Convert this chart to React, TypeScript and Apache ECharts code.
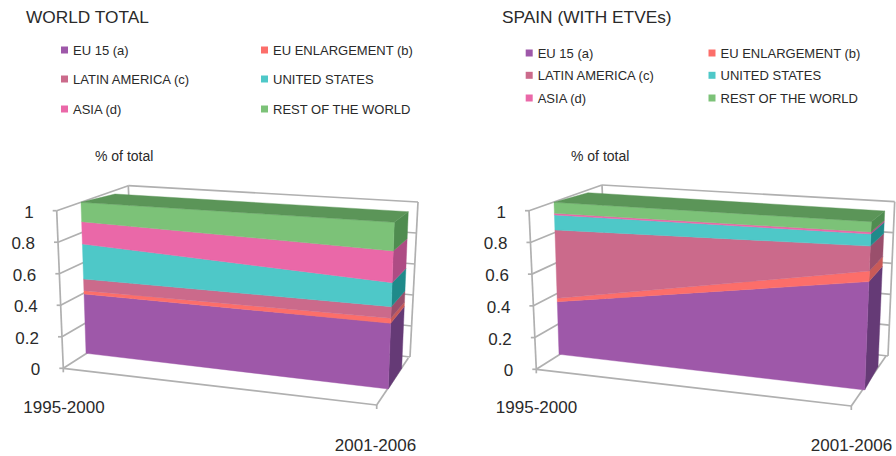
import React, { useEffect, useRef } from "react";
import * as echarts from "echarts";

const periods = ["1995-2000", "2001-2006"];
const yTicks = [0, 0.2, 0.4, 0.6, 0.8, 1];
const seriesNames = ["EU 15 (a)", "EU ENLARGEMENT (b)", "LATIN AMERICA (c)", "UNITED STATES", "ASIA (d)", "REST OF THE WORLD"];
const frontColors = ["#9e58a9", "#fc6e6a", "#cb6a8b", "#4ec8c8", "#ea68a8", "#7cc278"];
const sideColors = ["#653a76", "#c85a58", "#9a4f6c", "#1f8a8a", "#ae4c84", "#4f8c50"];
const topColor = "#5b9558";

const worldEu15 = [0.393, 0.394];
const worldEnlargement = [0.022, 0.03];
const worldLatin = [0.077, 0.07];
const worldUS = [0.232, 0.144];
const worldAsia = [0.148, 0.19];
const worldRest = [0.128, 0.172];

const spainEu15 = [0.346, 0.644];
const spainEnlargement = [0.022, 0.063];
const spainLatin = [0.45, 0.148];
const spainUS = [0.099, 0.072];
const spainAsia = [0.011, 0.012];
const spainRest = [0.072, 0.061];

type Pt = [number, number];
type Quad = { bl: Pt; tl: Pt; br: Pt; tr: Pt };
const mix = (a: Pt, b: Pt, t: number): Pt => [a[0] + (b[0] - a[0]) * t, a[1] + (b[1] - a[1]) * t];
const onQuad = (q: Quad, u: number, v: number): Pt => mix(mix(q.bl, q.br, u), mix(q.tl, q.tr, u), v);

const worldGeo = {
  front: { bl: [86, 353.3], tl: [81, 202.3], br: [388.3, 389], tr: [394.3, 222.3] } as Quad,
  side: { bl: [388.3, 389], tl: [394.3, 222.3], br: [401.7, 368.3], tr: [408.3, 211.7] } as Quad,
  topBack: [[115, 194], [408.3, 211.7]] as Pt[],
  leftWall: { bl: [63.3, 368.3], tl: [56.7, 210.7], br: [134, 323], tr: [128.3, 185.7] } as Quad,
  backWall: { bl: [134, 323], tl: [128.3, 185.7], br: [410, 357], tr: [418, 202] } as Quad,
  floorFrontRight: [376.7, 405] as Pt,
  floorBackRight: [408.3, 358] as Pt,
  periodLabels: [[64, 407], [375.5, 445]] as Pt[],
};
const spainGeo = {
  front: { bl: [559, 354.3], tl: [554, 202.3], br: [864.7, 390], tr: [871.3, 221.7] } as Quad,
  side: { bl: [864.7, 390], tl: [871.3, 221.7], br: [878, 366.7], tr: [884.7, 211] } as Quad,
  topBack: [[588, 192.7], [884.7, 211]] as Pt[],
  leftWall: { bl: [536.3, 369.3], tl: [529, 210.7], br: [608, 324], tr: [602, 185] } as Quad,
  backWall: { bl: [608, 324], tl: [602, 185], br: [888, 356], tr: [894.7, 201.7] } as Quad,
  floorFrontRight: [851.3, 406] as Pt,
  floorBackRight: [886, 356] as Pt,
  periodLabels: [[536.5, 407], [851.5, 445]] as Pt[],
};

const FONT = "'Liberation Sans', Arial, sans-serif";
const GRID = "#b0b0b0";
const INK = "#2a2a2a";

function normalised(params: any, api: any, xIndex: number, value: number): [number, number] {
  const p = api.coord([xIndex, value]);
  const c = params.coordSys;
  return [(p[0] - c.x) / c.width, 1 - (p[1] - c.y) / c.height];
}

function bandSeries(name: string, idx: number, values: number[][], geo: typeof worldGeo, gridIndex: number) {
  const low = [0, 0];
  for (let k = 0; k < idx; k++) { low[0] += values[k][0]; low[1] += values[k][1]; }
  const high = [low[0] + values[idx][0], low[1] + values[idx][1]];
  const isTop = idx === values.length - 1;
  return {
    type: "custom",
    name,
    coordinateSystem: "cartesian2d",
    xAxisIndex: gridIndex,
    yAxisIndex: gridIndex,
    silent: true,
    z: 3,
    itemStyle: { color: frontColors[idx] },
    encode: { x: 0, y: [1, 2] },
    data: [[0, low[0], high[0]]],
    renderItem(params: any, api: any) {
      const n0 = normalised(params, api, 0, low[0]);
      const n1 = normalised(params, api, 0, high[0]);
      const m0 = normalised(params, api, 1, low[1]);
      const m1 = normalised(params, api, 1, high[1]);
      const poly = (q: Quad, fill: string, a0: number, a1: number, b0: number, b1: number) => ({
        type: "polygon",
        shape: { points: [onQuad(q, 0, a0), onQuad(q, 1, b0), onQuad(q, 1, b1), onQuad(q, 0, a1)] },
        style: { fill, stroke: fill, lineWidth: 0.4 },
      });
      const children: any[] = [
        poly(geo.side, sideColors[idx], m0[1], m1[1], m0[1], m1[1]),
        poly(geo.front, frontColors[idx], n0[1], n1[1], m0[1], m1[1]),
      ];
      if (isTop) {
        children.push({
          type: "polygon",
          shape: { points: [geo.front.tl, geo.topBack[0], geo.topBack[1], geo.front.tr] },
          style: { fill: topColor, stroke: topColor, lineWidth: 0.4 },
        });
      }
      return { type: "group", children };
    },
  };
}

function frameSeries(geo: typeof worldGeo, gridIndex: number) {
  const line = (a: Pt, b: Pt) => ({
    type: "line",
    shape: { x1: a[0], y1: a[1], x2: b[0], y2: b[1] },
    style: { stroke: GRID, lineWidth: 1.7 },
  });
  const label = (text: string, x: number, y: number, align: string) => ({
    type: "text",
    style: { text, x, y, fill: INK, fontSize: 17, fontFamily: FONT, align, verticalAlign: "middle" },
  });
  return {
    type: "custom",
    coordinateSystem: "cartesian2d",
    xAxisIndex: gridIndex,
    yAxisIndex: gridIndex,
    silent: true,
    z: 1,
    encode: { x: 0, y: 1 },
    data: yTicks.map((t) => [0, t]),
    renderItem(params: any, api: any) {
      const tick = yTicks[params.dataIndex];
      const v = normalised(params, api, 0, tick)[1];
      const a = onQuad(geo.leftWall, 0, v);
      const b = onQuad(geo.leftWall, 1, v);
      const c = onQuad(geo.backWall, 1, v);
      const children: any[] = [
        line([a[0] - 4, a[1]], a),
        line(a, b),
        line(b, c),
        label(String(tick), a[0] - 23, a[1] + 1.5, "right"),
      ];
      if (params.dataIndex === 0) {
        const w = geo.leftWall;
        const bw = geo.backWall;
        const fr = geo.floorFrontRight;
        children.push(
          line(w.bl, w.tl),
          line(w.br, w.tr),
          line(bw.br, bw.tr),
          line(w.bl, fr),
          line(fr, geo.floorBackRight),
          line(fr, [fr[0], fr[1] + 4]),
          line(w.bl, [w.bl[0], w.bl[1] + 4]),
          label(periods[0], geo.periodLabels[0][0], geo.periodLabels[0][1], "center"),
          label(periods[1], geo.periodLabels[1][0], geo.periodLabels[1][1], "center"),
        );
      }
      return { type: "group", children };
    },
  };
}

const legendColumnsWorld = [61, 261];
const legendRowsWorld = [43.5, 72.5, 102.5];
const legendColumnsSpain = [525.7, 708.5];
const legendRowsSpain = [46.5, 68.8, 91.5];

function legends(columns: number[], rows: number[]) {
  return seriesNames.map((name, i) => ({
    data: [name],
    left: columns[i % 2],
    top: rows[Math.floor(i / 2)],
    padding: 0,
    selectedMode: false,
    icon: "rect",
    itemWidth: 7,
    itemHeight: 7,
    textStyle: { fontSize: 13, fontFamily: FONT, color: INK },
  }));
}

const titles = [
  { text: "WORLD TOTAL", left: 26, top: 8, fontSize: 17.3 },
  { text: "SPAIN (WITH ETVEs)", left: 502, top: 8, fontSize: 17.3 },
  { text: "% of total", left: 95, top: 149, fontSize: 14 },
  { text: "% of total", left: 571, top: 149, fontSize: 14 },
];

export default function App() {
  const ref = useRef<HTMLDivElement>(null);
  useEffect(() => {
    document.body.style.margin = "0";
    const chart = echarts.init(ref.current!, undefined, { renderer: "svg" });
    const world = [worldEu15, worldEnlargement, worldLatin, worldUS, worldAsia, worldRest];
    const spain = [spainEu15, spainEnlargement, spainLatin, spainUS, spainAsia, spainRest];
    const grids = [
      { left: 86, top: 202, width: 302, height: 187 },
      { left: 559, top: 202, width: 306, height: 188 },
    ];
    chart.setOption({
      animation: false,
      backgroundColor: "#ffffff",
      title: titles.map((t) => ({
        text: t.text,
        left: t.left,
        top: t.top,
        padding: 0,
        textStyle: { fontSize: t.fontSize, fontWeight: "normal", fontFamily: FONT, color: INK },
      })),
      legend: [...legends(legendColumnsWorld, legendRowsWorld), ...legends(legendColumnsSpain, legendRowsSpain)],
      grid: grids,
      xAxis: grids.map((_, i) => ({ type: "category", gridIndex: i, data: periods, boundaryGap: false, show: false })),
      yAxis: grids.map((_, i) => ({ type: "value", gridIndex: i, min: 0, max: 1, interval: 0.2, show: false })),
      series: [
        frameSeries(worldGeo, 0),
        frameSeries(spainGeo, 1),
        ...seriesNames.map((n, i) => bandSeries(n, i, world, worldGeo, 0)),
        ...seriesNames.map((n, i) => bandSeries(n, i, spain, spainGeo, 1)),
      ],
    });
    return () => chart.dispose();
  }, []);
  return <div ref={ref} style={{ position: "absolute", left: 0, top: 0, width: 896, height: 456 }} />;
}
